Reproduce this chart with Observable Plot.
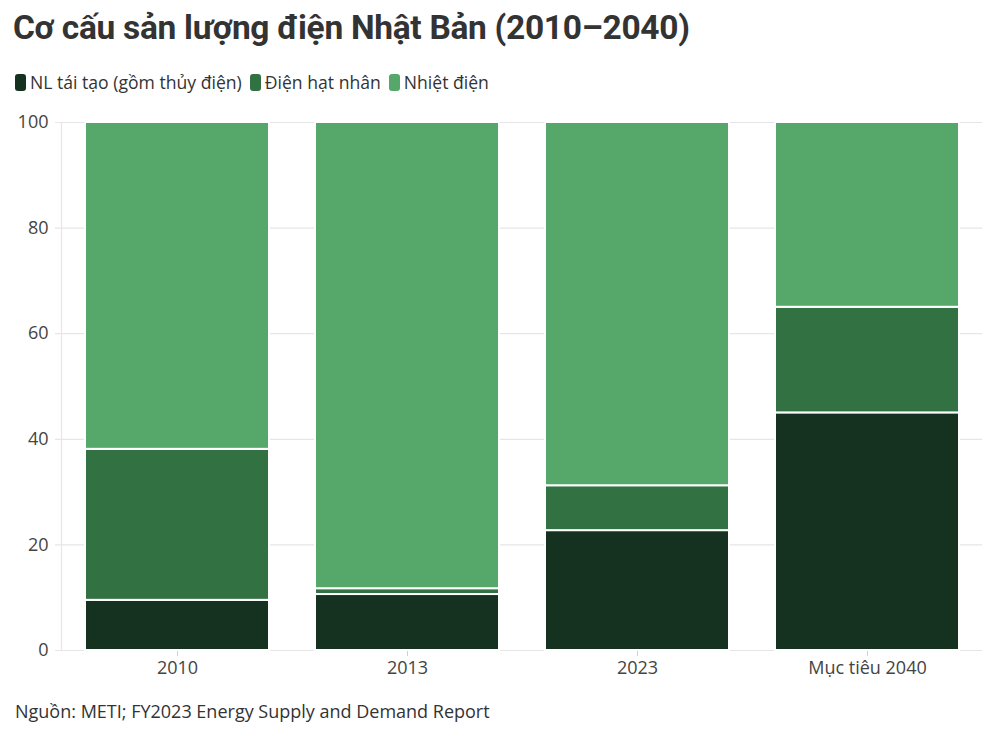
<!DOCTYPE html>
<html>
<head>
<meta charset="utf-8">
<script src="https://cdn.jsdelivr.net/npm/d3@7"></script>
<script src="https://cdn.jsdelivr.net/npm/@observablehq/plot@0.6"></script>
<style>
  html, body { margin: 0; padding: 0; background: #fff; }
  body { width: 1000px; height: 734px; overflow: hidden; font-family: "Open Sans", sans-serif; color: #333; }
  #title { position: absolute; left: 13px; top: 8px; font-family: Roboto, sans-serif; font-weight: 700; font-size: 33.5px; color: #333; letter-spacing: -0.3px; }
  #legend { position: absolute; left: 15px; top: 70px; display: flex; align-items: center; font-size: 17.6px; color: #333; }
  .item { display: flex; align-items: center; margin-right: 8px; }
  .sw { width: 11px; height: 17px; border-radius: 3px; margin-right: 4px; }
  #chart { position: absolute; left: 0; top: 102px; }
  #chart svg { overflow: visible; }
  #caption { position: absolute; left: 15px; top: 699px; font-size: 18px; color: #333; }
</style>
</head>
<body>
<div id="title">Cơ cấu sản lượng điện Nhật Bản (2010–2040)</div>
<div id="legend"></div>
<div id="chart"></div>
<div id="caption">Nguồn: METI; FY2023 Energy Supply and Demand Report</div>
<script>
const categories = ["2010", "2013", "2023", "Mục tiêu 2040"];
const series = ["NL tái tạo (gồm thủy điện)", "Điện hạt nhân", "Nhiệt điện"];
const renewable = [9.5, 10.6, 22.7, 45];
const nuclear = [28.6, 1.1, 8.5, 20];
const thermal = [61.9, 88.3, 68.8, 35];
const colors = ["#15311f", "#327142", "#56a86a"];
const yTicks = [0, 20, 40, 60, 80, 100];

const values = [renewable, nuclear, thermal];
const data = [];
categories.forEach((c, i) => {
  series.forEach((s, j) => data.push({category: c, series: s, value: values[j][i]}));
});

const legend = document.getElementById("legend");
series.forEach((s, j) => {
  const it = document.createElement("div");
  it.className = "item";
  it.innerHTML = `<span class="sw" style="background:${colors[j]}"></span><span>${s}</span>`;
  legend.appendChild(it);
});

const chart = Plot.plot({
  width: 1000,
  height: 583,
  marginTop: 20,
  marginLeft: 61,
  marginRight: 18,
  marginBottom: 35,
  style: {fontFamily: "'Open Sans', sans-serif", fontSize: "18px", color: "#444", overflow: "visible"},
  x: {domain: categories, paddingInner: 0.2, paddingOuter: 0.1, label: null},
  y: {domain: [0, 100], label: null},
  color: {domain: series, range: colors},
  marks: [
    Plot.ruleY(yTicks, {stroke: "#e6e6e6", strokeWidth: 1.2, insetLeft: -6}),
    Plot.frame({anchor: "left", stroke: "#e6e6e6", strokeWidth: 1.2}),
    Plot.axisY({ticks: yTicks, tickSize: 0, tickPadding: 13, fill: "#444", label: null}),
    Plot.axisX({tickSize: 6, stroke: "#d0d0d0", tickPadding: 5, fill: "#444", label: null}),
    Plot.barY(data, {x: "category", y: "value", fill: "series", stroke: "white", strokeWidth: 2, order: series})
  ]
});
document.getElementById("chart").appendChild(chart);
</script>
</body>
</html>
